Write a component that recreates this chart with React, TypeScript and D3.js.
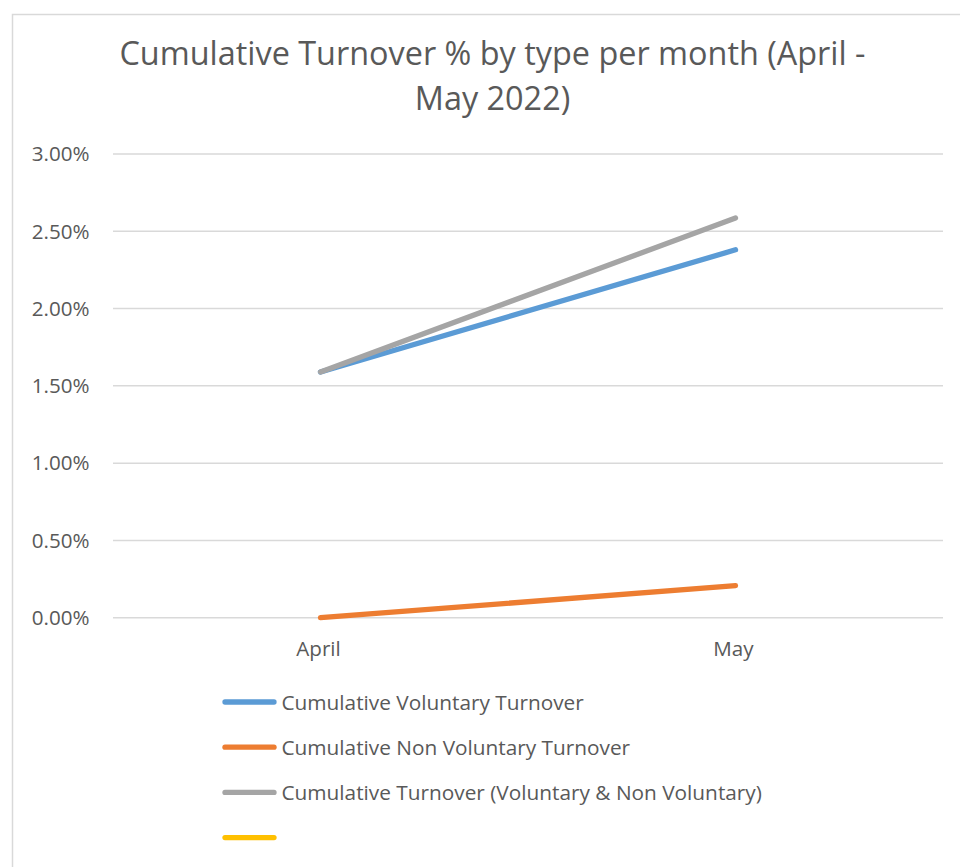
import React from "react";
import * as d3 from "d3";

const months = ["April", "May"];
const voluntary = [1.59, 2.38];
const nonVoluntary = [0.0, 0.207];
const total = [1.59, 2.586];
const yTicks = [0, 0.5, 1, 1.5, 2, 2.5, 3];
const titleLines = ["Cumulative Turnover % by type per month (April -", "May 2022)"];
const seriesNames = [
  "Cumulative Voluntary Turnover",
  "Cumulative Non Voluntary Turnover",
  "Cumulative Turnover (Voluntary & Non Voluntary)",
  "",
];
const seriesColors = ["#5b9bd5", "#ed7d31", "#a5a5a5", "#ffc000"];
const seriesValues: (number[] | null)[] = [voluntary, nonVoluntary, total, null];

export default function App() {
  const W = 960;
  const H = 867;
  const left = 113;
  const right = 943;
  const top = 154;
  const bottom = 617.7;
  const font = "'Open Sans', sans-serif";
  const textColor = "#595959";

  const x = d3.scaleBand<string>().domain(months).range([left, right]);
  const y = d3.scaleLinear().domain([0, 3]).range([bottom, top]);
  const line = d3
    .line<number>()
    .x((_, i) => (x(months[i]) as number) + x.bandwidth() / 2)
    .y((v) => y(v));

  return (
    <svg width={W} height={H} style={{ position: "absolute", left: 0, top: 0 }}>
      <rect x={0} y={0} width={W} height={H} fill="#ffffff" />
      <rect x={12.5} y={14.5} width={W + 20} height={H + 20} fill="none" stroke="#d9d9d9" strokeWidth={1.5} />
      {titleLines.map((t, i) => (
        <text
          key={i}
          x={492.5}
          y={65 + i * 45}
          textAnchor="middle"
          fontFamily={font}
          fontSize={32.4}
          fill={textColor}
        >
          {t}
        </text>
      ))}
      {yTicks.map((t) => (
        <g key={t}>
          <line x1={left} x2={right} y1={y(t)} y2={y(t)} stroke="#d9d9d9" strokeWidth={1.5} />
          <text
            x={89.5}
            y={y(t) + 7.3}
            textAnchor="end"
            fontFamily={font}
            fontSize={20.6}
            fill={textColor}
          >
            {d3.format(".2f")(t) + "%"}
          </text>
        </g>
      ))}
      {months.map((m) => (
        <text
          key={m}
          x={(x(m) as number) + x.bandwidth() / 2 - 2}
          y={656}
          textAnchor="middle"
          fontFamily={font}
          fontSize={20.6}
          fill={textColor}
        >
          {m}
        </text>
      ))}
      {seriesValues.map((vals, i) =>
        vals ? (
          <path
            key={i}
            d={line(vals) as string}
            fill="none"
            stroke={seriesColors[i]}
            strokeWidth={5.3}
            strokeLinecap="round"
            strokeLinejoin="round"
          />
        ) : null
      )}
      {seriesNames.map((n, i) => (
        <g key={i} transform={`translate(0, ${702 + i * 45.2})`}>
          <line x1={225} x2={274} y1={0} y2={0} stroke={seriesColors[i]} strokeWidth={5.3} strokeLinecap="round" />
          <text x={281.5} y={7.5} fontFamily={font} fontSize={20.8} fill={textColor}>
            {n}
          </text>
        </g>
      ))}
    </svg>
  );
}
